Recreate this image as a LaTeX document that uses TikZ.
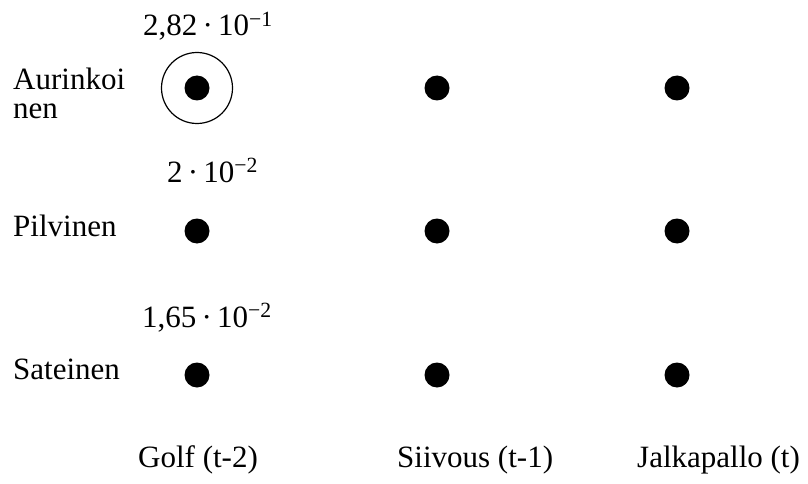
\documentclass[tikz,border=0pt]{standalone}
\usepackage{fontspec}
\setmainfont{Liberation Serif}
\usetikzlibrary{positioning}
\definecolor{vtblack}{HTML}{000000}

\begin{document}
\begin{tikzpicture}[x=1pt, y=-1pt,
    font=\fontsize{31}{29}\selectfont,
    state/.style={circle, fill=vtblack, inner sep=0pt, minimum size=25pt},
    best/.style={circle, draw=vtblack, line width=1.2pt, inner sep=0pt, minimum size=71pt},
    rowlbl/.style={anchor=base west, align=left, inner sep=0pt},
    collbl/.style={anchor=base west, inner sep=0pt},
    problbl/.style={anchor=base west, inner sep=0pt}]
  \useasboundingbox (0,0) rectangle (808,484);
  % trellis of hidden weather states, one column per observed activity
  \foreach \col/\x in {golf/197, siivous/437, jalka/677}
    \foreach \row/\y in {sun/88, cloud/231, rain/375}
      \node[state] (\col-\row) at (\x,\y) {};
  % most likely state at t-2 is circled
  \node[best] (golf-pick) at (golf-sun) {};
  % row labels (hidden states)
  \node[rowlbl] (lbl-sun) at (13,119) {Aurinkoi\\nen};
  \node[rowlbl] (lbl-cloud) at (13,236) {Pilvinen};
  \node[rowlbl] (lbl-rain) at (13,379) {Sateinen};
  % delta values of the first column
  \node[problbl] (p-sun) at (143,36) {2,82\,·\,10\textsuperscript{−1}};
  \node[problbl] (p-cloud) at (167,182) {2\,·\,10\textsuperscript{−2}};
  \node[problbl] (p-rain) at (142,327) {1,65\,·\,10\textsuperscript{−2}};
  % observations along the time axis
  \node[collbl] (obs-golf) at (138,467) {Golf (t-2)};
  \node[collbl] (obs-siivous) at (397,467) {Siivous (t-1)};
  \node[collbl] (obs-jalka) at (637,467) {Jalkapallo (t)};
\end{tikzpicture}
\end{document}
